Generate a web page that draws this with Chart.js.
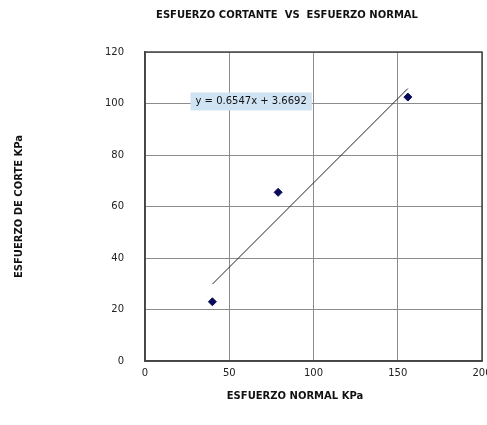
<!DOCTYPE html>
<html>
<head>
<meta charset="utf-8">
<script src="https://cdn.jsdelivr.net/npm/chart.js@4"></script>
<style>
  html, body { margin: 0; padding: 0; background: #fff; }
  #wrap { width: 487px; height: 425px; }
</style>
</head>
<body>
<div id="wrap"><canvas id="chart" width="487" height="425"></canvas></div>
<script>
// Ensayo de corte directo
const normalStress = [40, 79, 156];      // ESFUERZO NORMAL KPa
const shearStress = [23, 65.5, 102.5];   // ESFUERZO DE CORTE KPa
const trendSlope = [0.6547];
const trendIntercept = [3.6692];
const equationText = ['y = 0.6547x + 3.6692'];
const chartTitle = ['ESFUERZO CORTANTE  VS  ESFUERZO NORMAL'];
const xTitle = ['ESFUERZO NORMAL KPa'];
const xTicks = [0, 50, 100, 150, 200];
const yTicks = [0, 20, 40, 60, 80, 100, 120];

const FONT = '"DejaVu Sans", "Liberation Sans", Arial, sans-serif';

const xMin = Math.min(...normalStress);
const xMax = Math.max(...normalStress);
const trendPoints = [xMin, xMax].map(x => ({ x, y: trendSlope[0] * x + trendIntercept[0] }));

// title, x title, plot box and equation label (like the excel chart)
const excelBits = {
  id: 'excelBits',
  afterDraw(chart) {
    const { ctx, chartArea: a, scales } = chart;
    ctx.save();
    // box around plot area
    ctx.strokeStyle = '#444';
    ctx.lineWidth = 1.5;
    ctx.strokeRect(a.left, a.top, a.right - a.left, a.bottom - a.top);

    ctx.fillStyle = '#111';
    ctx.textAlign = 'center';
    ctx.textBaseline = 'middle';
    ctx.font = 'bold 10px ' + FONT;
    ctx.fillText(chartTitle[0], 287, 15);
    ctx.fillText(xTitle[0], 295, 396);

    // equation
    const cx = scales.x.getPixelForValue(63);
    const cy = scales.y.getPixelForValue(100.8);
    ctx.font = '10px ' + FONT;
    const w = ctx.measureText(equationText[0]).width + 10;
    ctx.fillStyle = '#cfe3f3';
    ctx.fillRect(cx - w / 2, cy - 9, w, 18);
    ctx.fillStyle = '#111';
    ctx.fillText(equationText[0], cx, cy);
    ctx.restore();
  }
};

new Chart(document.getElementById('chart').getContext('2d'), {
  type: 'scatter',
  data: {
    datasets: [{
      label: 'Datos',
      data: normalStress.map((x, i) => ({ x, y: shearStress[i] })),
      pointStyle: 'rectRot',
      radius: 4,
      backgroundColor: '#0a0a5a',
      borderColor: '#0a0a5a',
      order: 1
    }, {
      label: 'Tendencia',
      type: 'line',
      data: trendPoints,
      borderColor: '#222',
      borderWidth: 1,
      pointRadius: 0,
      fill: false,
      order: 2
    }]
  },
  options: {
    responsive: false,
    animation: false,
    layout: { padding: { left: 0, right: 3, top: 52, bottom: 0 } },
    plugins: {
      legend: { display: false },
      tooltip: { enabled: false },
      title: { display: false }
    },
    scales: {
      x: {
        type: 'linear',
        min: 0, max: 200,
        afterBuildTicks: s => { s.ticks = xTicks.map(v => ({ value: v })); },
        afterFit: s => { s.height = 64; s.paddingLeft = 0; s.paddingRight = 0; },
        grid: { color: '#8c8c8c', drawTicks: false },
        border: { color: '#444', width: 1.5 },
        ticks: { color: '#222', padding: 6, font: { family: FONT, size: 10 } }
      },
      y: {
        min: 0, max: 120,
        afterBuildTicks: s => { s.ticks = yTicks.map(v => ({ value: v })); },
        afterFit: s => { s.width = 145; s.paddingTop = 0; s.paddingBottom = 0; },
        grid: { color: '#8c8c8c', drawTicks: false },
        border: { color: '#444', width: 1.5 },
        ticks: { color: '#222', padding: 21, font: { family: FONT, size: 10 } },
        title: {
          display: true,
          text: 'ESFUERZO DE CORTE KPa',
          color: '#111',
          padding: { top: 13, bottom: 0 },
          font: { family: FONT, size: 10, weight: 'bold' }
        }
      }
    }
  },
  plugins: [excelBits]
});
</script>
</body>
</html>
